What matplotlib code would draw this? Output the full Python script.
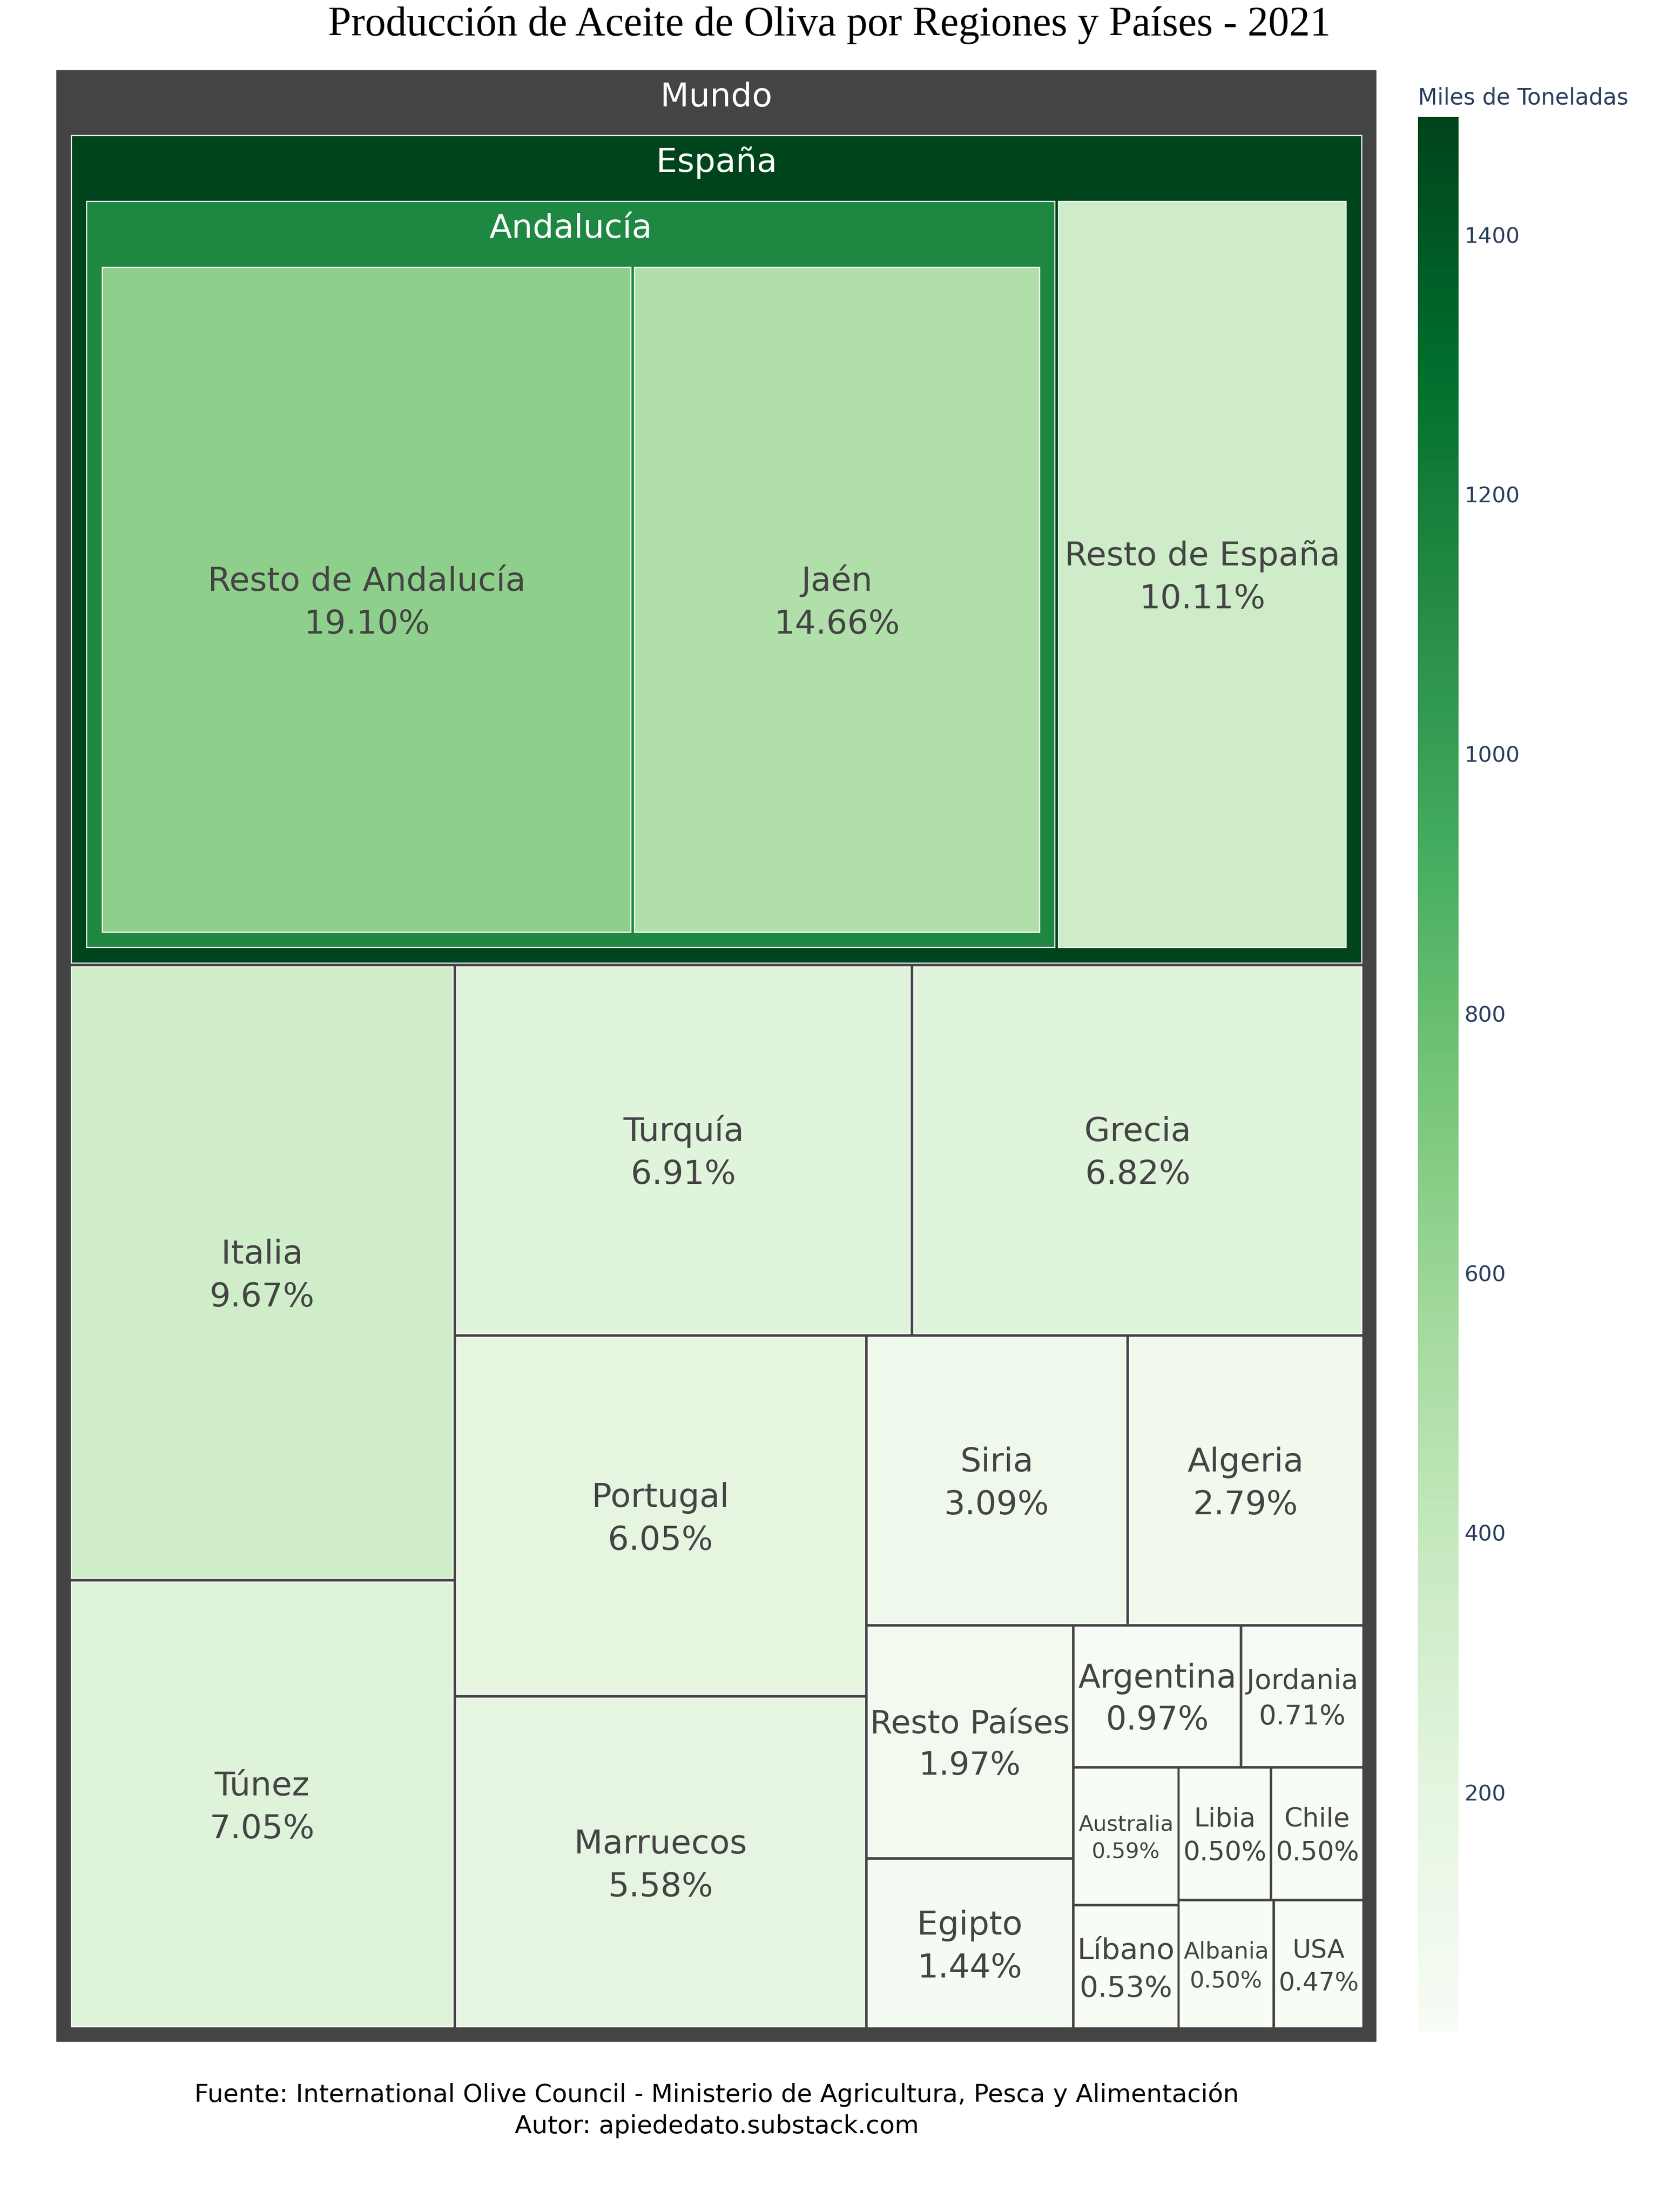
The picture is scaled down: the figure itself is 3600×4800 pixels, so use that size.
import numpy as np
import matplotlib.pyplot as plt
from matplotlib.patches import Rectangle
from matplotlib.colors import LinearSegmentedColormap, Normalize
from matplotlib.cm import ScalarMappable
from matplotlib.font_manager import FontProperties
from matplotlib.textpath import TextPath

# datos (porcentaje sobre la producción mundial, 2021)
labels = ["Mundo", "España", "Andalucía", "Resto de Andalucía", "Jaén",
          "Resto de España", "Italia", "Túnez", "Turquía", "Grecia", "Portugal",
          "Marruecos", "Siria", "Algeria", "Resto Países", "Egipto", "Argentina",
          "Jordania", "Australia", "Líbano", "Libia", "Chile", "Albania", "USA"]
parents = ["", "Mundo", "España", "Andalucía", "Andalucía",
           "España", "Mundo", "Mundo", "Mundo", "Mundo", "Mundo",
           "Mundo", "Mundo", "Mundo", "Mundo", "Mundo", "Mundo",
           "Mundo", "Mundo", "Mundo", "Mundo", "Mundo", "Mundo", "Mundo"]
percent = [0, 0, 0, 19.10, 14.66,
           10.11, 9.67, 7.05, 6.91, 6.82, 6.05,
           5.58, 3.09, 2.79, 1.97, 1.44, 0.97,
           0.71, 0.59, 0.53, 0.50, 0.50, 0.50, 0.47]
world_kt = 3398  # miles de toneladas, total mundial

title = "Producción de Aceite de Oliva por Regiones y Países - 2021"
footer = ["Fuente: International Olive Council - Ministerio de Agricultura, Pesca y Alimentación",
          "Autor: apiededato.substack.com"]
cbar_title = "Miles de Toneladas"
cbar_ticks = [200, 400, 600, 800, 1000, 1200, 1400]

# lienzo en "px" de pantalla (1176 x 1568)
W, H = 1176, 1568
PX = 72 / 300 * 4800 / H   # puntos por px
FONT = "DejaVu Sans"
BASE = 23.5                 # tamaño de letra base (px)
PAD_SIDE, PAD_TOP, TILE_PAD = 11, 46.7, 2.6
ROOT_COLOR = "#444444"
TXT = "#444444"

greens = [(247, 252, 245), (229, 245, 224), (199, 233, 192), (161, 217, 155),
          (116, 196, 118), (65, 171, 93), (35, 139, 69), (0, 109, 44), (0, 68, 27)]
cmap = LinearSegmentedColormap.from_list(
    "greens", [(i / 8, tuple(c / 255 for c in rgb)) for i, rgb in enumerate(greens)])

# valores por nodo
children = {l: [] for l in labels}
for l, p in zip(labels, parents):
    if p:
        children[p].append(l)
pct = dict(zip(labels, percent))


def node_value(l):
    return pct[l] + sum(node_value(c) for c in children[l])


value = {l: node_value(l) for l in labels}
kt = {l: value[l] / 100 * world_kt for l in labels}
norm = Normalize(min(kt[l] for l in labels[1:]), max(kt[l] for l in labels[1:]))


def squarify(vals, x0, y0, x1, y1, ratio=1.0):
    rects = [None] * len(vals)
    total = sum(vals)
    n = len(vals)
    i0 = 0
    while i0 < n:
        dx, dy = x1 - x0, y1 - y0
        i1 = i0 + 1
        s = vals[i0]
        vmin = vmax = s
        alpha = max(dy / dx, dx / dy) / (total * ratio)
        beta = s * s * alpha
        best = max(vmax / beta, beta / vmin)
        while i1 < n:
            v = vals[i1]
            s2 = s + v
            mn, mx = min(vmin, v), max(vmax, v)
            beta = s2 * s2 * alpha
            r = max(mx / beta, beta / mn)
            if r > best:
                break
            s, vmin, vmax, best = s2, mn, mx, r
            i1 += 1
        if dx < dy:
            yb = y0 + dy * s / total
            xx = x0
            for i in range(i0, i1):
                w = (x1 - x0) * vals[i] / s
                rects[i] = (xx, y0, xx + w, yb)
                xx += w
            y0 = yb
        else:
            xb = x0 + dx * s / total
            yy = y0
            for i in range(i0, i1):
                h = (y1 - y0) * vals[i] / s
                rects[i] = (x0, yy, xb, yy + h)
                yy += h
            x0 = xb
        total -= s
        i0 = i1
    return rects


fp = FontProperties(family=FONT)


def text_width(s, size):
    return TextPath((0, 0), s, size=size, prop=fp).get_extents().width


fig = plt.figure(figsize=(12, 16), dpi=300)
ax = fig.add_axes([0, 0, 1, 1])
ax.set_xlim(0, W)
ax.set_ylim(H, 0)
ax.axis("off")


def draw(l, x0, y0, x1, y1):
    color = ROOT_COLOR if l == labels[0] else cmap(norm(kt[l]))
    ax.add_patch(Rectangle((x0, y0), x1 - x0, y1 - y0, facecolor=color,
                           edgecolor="white", linewidth=0.8 * PX))
    kids = sorted(children[l], key=lambda c: -value[c])
    if kids:
        ax.text((x0 + x1) / 2, y0 + 26, l, ha="center", va="baseline",
                fontsize=BASE * PX, color="white", family=FONT)
        p = TILE_PAD / 2
        rects = squarify([value[c] for c in kids],
                         x0 + PAD_SIDE - p, y0 + PAD_TOP - p,
                         x1 - PAD_SIDE + p, y1 - PAD_SIDE + p)
        for c, (a, b, cx, d) in zip(kids, rects):
            draw(c, a + p, b + p, cx - p, d - p)
    else:
        lines = [l, f"{pct[l]:.2f}%"]
        tw = max(text_width(s, BASE) for s in lines)
        fs = BASE * min(1, (x1 - x0 - 6) / tw, (y1 - y0 - 6) / (2.4 * BASE))
        cx, cy = (x0 + x1) / 2, (y0 + y1) / 2
        ax.text(cx, cy - 0.27 * fs, lines[0], ha="center", va="baseline",
                fontsize=fs * PX, color=TXT, family=FONT)
        ax.text(cx, cy + 1.02 * fs, lines[1], ha="center", va="baseline",
                fontsize=fs * PX, color=TXT, family=FONT)


draw(labels[0], 39.5, 49.3, 976.2, 1447.8)

ax.text(W / 2, 25, title, ha="center", va="baseline", fontsize=29.5 * PX,
        family="Liberation Serif", color="black")
ax.text(508, 1490, footer[0], ha="center", va="baseline", fontsize=17.7 * PX,
        family=FONT, color="black")
ax.text(508, 1512, footer[1], ha="center", va="baseline", fontsize=17.7 * PX,
        family=FONT, color="black")

# barra de color
cax = fig.add_axes([1005 / W, 1 - 1440 / H, 29 / W, 1357 / H])
cb = fig.colorbar(ScalarMappable(norm=norm, cmap=cmap), cax=cax)
cb.outline.set_visible(False)
cb.set_ticks(cbar_ticks)
cax.tick_params(length=0, pad=4 * PX, labelsize=15.5 * PX, labelcolor="#2a3f5f")
for t in cax.get_yticklabels():
    t.set_family(FONT)
ax.text(1005, 74, cbar_title, ha="left", va="baseline", fontsize=15.9 * PX,
        family=FONT, color="#2a3f5f")

fig.savefig("out.png", dpi=300)
